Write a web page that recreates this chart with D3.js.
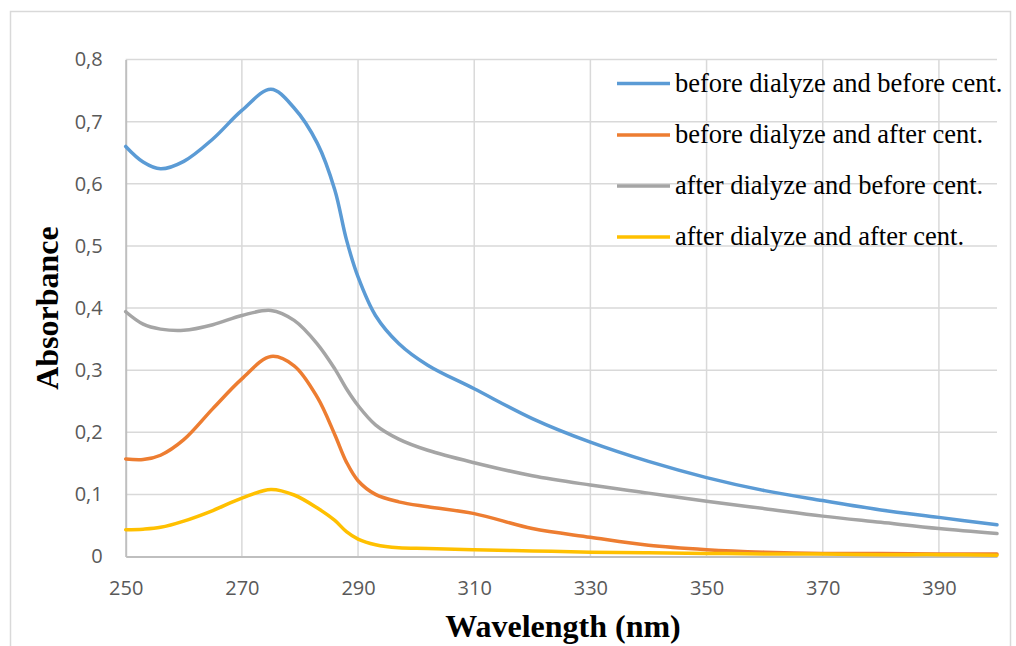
<!DOCTYPE html>
<html>
<head>
<meta charset="utf-8">
<script src="https://cdn.jsdelivr.net/npm/d3@7"></script>
<style>
  html, body { margin: 0; padding: 0; background: #fff; }
  svg { display: block; }
</style>
</head>
<body>
<svg id="chart" width="1016" height="646"></svg>
<script>
const wavelengths = [250, 253, 256, 260, 265, 270, 275, 279, 283, 286, 288, 290, 293, 297, 302, 310, 320, 330, 340, 350, 360, 370, 380, 390, 400];
const beforeDialyzeBeforeCent = [0.660, 0.635, 0.624, 0.636, 0.672, 0.718, 0.752, 0.722, 0.665, 0.590, 0.510, 0.450, 0.388, 0.343, 0.308, 0.270, 0.222, 0.184, 0.153, 0.127, 0.106, 0.090, 0.075, 0.063, 0.051];
const beforeDialyzeAfterCent = [0.157, 0.156, 0.163, 0.188, 0.238, 0.286, 0.322, 0.307, 0.256, 0.196, 0.152, 0.122, 0.100, 0.088, 0.080, 0.069, 0.045, 0.031, 0.018, 0.011, 0.007, 0.005, 0.005, 0.004, 0.004];
const afterDialyzeBeforeCent = [0.394, 0.374, 0.366, 0.364, 0.373, 0.388, 0.396, 0.380, 0.342, 0.302, 0.270, 0.243, 0.212, 0.189, 0.171, 0.151, 0.130, 0.115, 0.102, 0.089, 0.077, 0.065, 0.055, 0.045, 0.037];
const afterDialyzeAfterCent = [0.043, 0.044, 0.047, 0.057, 0.074, 0.094, 0.108, 0.099, 0.078, 0.058, 0.040, 0.028, 0.019, 0.014, 0.013, 0.011, 0.009, 0.007, 0.006, 0.005, 0.004, 0.004, 0.003, 0.003, 0.002];
const seriesNames = ["before dialyze and before cent.", "before dialyze and after cent.", "after dialyze and before cent.", "after dialyze and after cent."];
const seriesColors = ["#5B9BD5", "#ED7D31", "#A5A5A5", "#FFC000"];
const xTicks = [250, 270, 290, 310, 330, 350, 370, 390];
const yTicks = [0, 0.1, 0.2, 0.3, 0.4, 0.5, 0.6, 0.7, 0.8];
const yTickLabels = ["0", "0,1", "0,2", "0,3", "0,4", "0,5", "0,6", "0,7", "0,8"];

const seriesValues = [beforeDialyzeBeforeCent, beforeDialyzeAfterCent, afterDialyzeBeforeCent, afterDialyzeAfterCent];

const svg = d3.select("#chart");
const plotL = 125.7, plotR = 997, plotT = 59.5, plotB = 556.5;

const x = d3.scaleLinear().domain([250, 400]).range([plotL, plotR]);
const y = d3.scaleLinear().domain([0, 0.8]).range([plotB, plotT]);

// outer border
svg.append("rect").attr("x", 10.5).attr("y", 11.5).attr("width", 1000).attr("height", 660)
  .attr("fill", "none").attr("stroke", "#d9d9d9").attr("stroke-width", 1.5);

// gridlines
svg.append("g").selectAll("line").data(yTicks.slice(1)).join("line")
  .attr("x1", plotL).attr("x2", plotR)
  .attr("y1", d => y(d)).attr("y2", d => y(d))
  .attr("stroke", "#d9d9d9").attr("stroke-width", 1.5);
svg.append("g").selectAll("line").data(xTicks.slice(1)).join("line")
  .attr("x1", d => x(d)).attr("x2", d => x(d))
  .attr("y1", plotT).attr("y2", plotB)
  .attr("stroke", "#d9d9d9").attr("stroke-width", 1.5);

// axes
const tickFont = "'Open Sans', sans-serif";
const xAxis = d3.axisBottom(x).tickValues(xTicks).tickSize(0).tickPadding(24);
const gx = svg.append("g").attr("transform", `translate(0,${plotB})`).call(xAxis);
gx.select(".domain").attr("stroke", "#bfbfbf").attr("stroke-width", 2);
gx.selectAll("text").attr("fill", "#595959").attr("font-family", tickFont).attr("font-size", 20);

const yAxis = d3.axisLeft(y).tickValues(yTicks).tickFormat((d, i) => yTickLabels[i]).tickSize(0).tickPadding(23);
const gy = svg.append("g").attr("transform", `translate(${plotL},0)`).call(yAxis);
gy.select(".domain").attr("stroke", "#bfbfbf").attr("stroke-width", 2);
gy.selectAll("text").attr("fill", "#595959").attr("font-family", tickFont).attr("font-size", 20);

// lines
const line = d3.line()
  .x((d, i) => x(wavelengths[i]))
  .y(d => y(d))
  .curve(d3.curveCatmullRom.alpha(0.5));

svg.append("g").selectAll("path").data(seriesValues).join("path")
  .attr("d", d => line(d))
  .attr("fill", "none")
  .attr("stroke", (d, i) => seriesColors[i])
  .attr("stroke-width", 3.5)
  .attr("stroke-linejoin", "round")
  .attr("stroke-linecap", "round");

// legend
const serif = "'Liberation Serif', 'Times New Roman', serif";
const legendY = [83.5, 135, 186, 237];
const lg = svg.append("g");
seriesNames.forEach((name, i) => {
  lg.append("line").attr("x1", 617).attr("x2", 670).attr("y1", legendY[i]).attr("y2", legendY[i])
    .attr("stroke", seriesColors[i]).attr("stroke-width", 3.5);
  lg.append("text").attr("x", 675).attr("y", legendY[i]).attr("dy", "0.32em")
    .attr("font-family", serif).attr("font-size", 26.5)
    .attr("fill", "#000").text(name);
});

// axis titles
svg.append("text").attr("x", 563).attr("y", 637).attr("text-anchor", "middle")
  .attr("font-family", serif).attr("font-weight", "bold")
  .attr("font-size", 32).attr("fill", "#000").text("Wavelength (nm)");
svg.append("text").attr("transform", "translate(58,308) rotate(-90)").attr("text-anchor", "middle")
  .attr("font-family", serif).attr("font-weight", "bold")
  .attr("font-size", 32).attr("fill", "#000").text("Absorbance");
</script>
</body>
</html>
